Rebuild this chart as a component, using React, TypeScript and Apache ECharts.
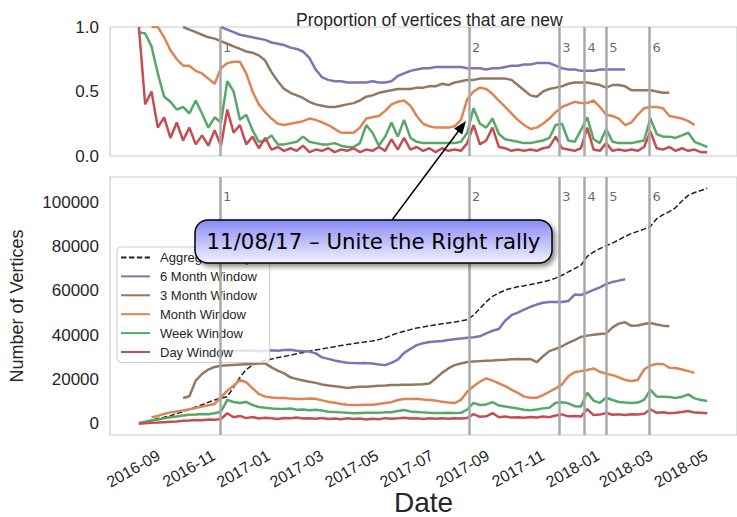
import React, { useEffect, useRef } from 'react';
import * as echarts from 'echarts';

const DAY = 86400000;
const firstWeek = Date.UTC(2016, 7, 10);
const weeks: number[] = Array.from({ length: 91 }, (_, i) => firstWeek + i * 7 * DAY);

const xMin = Date.UTC(2016, 6, 9);
const xMax = Date.UTC(2018, 5, 4);
const monthTicks = ['2016-09-01', '2016-11-01', '2017-01-01', '2017-03-01', '2017-05-01', '2017-07-01', '2017-09-01', '2017-11-01', '2018-01-01', '2018-03-01', '2018-05-01'];
const monthTickLabels = ['2016-09', '2016-11', '2017-01', '2017-03', '2017-05', '2017-07', '2017-09', '2017-11', '2018-01', '2018-03', '2018-05'];
const vertexTicks = [0, 20000, 40000, 60000, 80000, 100000];
const eventDates = ['2016-11-08', '2017-08-11', '2017-11-19', '2017-12-17', '2018-01-10', '2018-02-27'];
const eventNames = ['1', '2', '3', '4', '5', '6'];

const seriesNames = ['Aggregate Graph', '6 Month Window', '3 Month Window', 'Month Window', 'Week Window', 'Day Window'];
const seriesColors = ['#222222', '#8172b3', '#937860', '#dd8452', '#55a868', '#c44e52'];

// Bottom panel: number of vertices (thousands), weekly samples from 2016-08-10
const aggregateK = [0.2, 0.9, 1.7, 2.4, 3.0, 3.7, 4.6, 5.6, 6.6, 7.6,
  8.6, 9.8, 10.8, 11.6, 12.3, 16.5, 21.0, 24.5, 26.5, 27.7,
  28.6, 29.3, 29.9, 30.4, 31.0, 31.6, 32.2, 32.8, 33.3, 33.8,
  34.3, 34.8, 35.3, 35.8, 36.2, 36.6, 37.0, 37.4, 38.0, 38.8,
  40.0, 41.0, 41.8, 42.5, 43.2, 43.7, 44.2, 44.7, 45.1, 45.5,
  45.9, 46.4, 47.0, 49.0, 52.0, 55.0, 57.5, 59.0, 60.3, 61.2,
  61.8, 62.3, 62.8, 63.4, 64.0, 64.8, 65.7, 67.0, 68.5, 70.0,
  71.5, 75.5, 77.5, 79.0, 80.3, 81.5, 83.0, 84.5, 85.8, 86.8,
  87.8, 89.0, 92.5, 94.3, 95.7, 97.5, 100.5, 103.0, 104.3, 105.2,
  106.2];
const sixMonthStart = 13;
const sixMonthK = [33.3, 33.0, 32.8, 33.0, 33.2, 33.0, 32.8, 33.0, 33.2, 33.0,
  33.3, 33.4, 33.0, 32.8, 32.6, 31.8, 30.0, 29.3, 28.6, 28.0,
  27.6, 27.4, 27.3, 27.4, 27.2, 26.8, 26.5, 27.5, 29.0, 32.0,
  33.8, 35.5, 36.4, 36.9, 37.2, 37.4, 37.8, 38.2, 38.5, 38.8,
  39.1, 39.5, 40.8, 42.0, 42.8, 46.5, 49.0, 50.2, 51.5, 52.8,
  53.8, 54.6, 55.0, 54.9, 55.0, 55.4, 58.3, 58.1, 59.2, 60.4,
  61.5, 63.0, 64.0, 64.6, 65.2];
const threeMonthStart = 7;
const threeMonthK = [11.7, 12.5, 19.5, 22.5, 24.5, 25.7, 26.2, 26.4, 26.6, 26.8,
  26.9, 27.0, 27.2, 27.3, 25.5, 24.0, 22.8, 21.0, 20.2, 19.6,
  19.0, 18.5, 17.8, 17.3, 17.0, 16.6, 16.2, 16.5, 16.8, 16.7,
  17.0, 17.2, 17.3, 17.5, 17.5, 17.6, 17.7, 17.8, 17.9, 18.2,
  20.5, 23.0, 25.0, 26.5, 27.2, 27.9, 28.1, 28.3, 28.5, 28.6,
  28.8, 28.9, 29.1, 29.3, 29.2, 29.3, 27.8, 30.5, 32.8, 33.8,
  35.0, 36.5, 37.8, 39.2, 39.8, 40.2, 40.5, 40.8, 43.5, 45.2,
  45.8, 44.2, 44.4, 45.0, 45.5, 44.8, 44.3, 44.0];
const monthStart = 2;
const monthK = [3.0, 3.6, 4.5, 5.2, 5.6, 6.1, 6.6, 7.2, 7.8, 8.4,
  9.0, 12.0, 15.0, 17.2, 19.8, 18.8, 16.0, 13.5, 12.3, 11.9,
  11.7, 11.7, 11.4, 11.2, 11.2, 11.5, 11.3, 10.6, 10.0, 9.5,
  9.0, 8.6, 8.5, 8.5, 8.6, 8.6, 9.0, 9.4, 9.8, 10.8,
  11.2, 11.2, 11.3, 11.0, 10.8, 10.5, 10.0, 9.6, 9.4, 10.8,
  14.5, 17.0, 19.0, 20.5, 19.5, 18.3, 17.0, 15.5, 14.0, 12.3,
  11.8, 11.8, 13.0, 14.5, 16.0, 17.8, 21.5, 23.3, 23.8, 24.3,
  25.0, 23.5, 22.6, 22.0, 21.0, 19.8, 19.3, 19.8, 24.5, 26.3,
  27.0, 27.0, 25.3, 25.2, 24.5, 23.8, 23.0];
const weekK = [0.4, 1.0, 1.5, 2.0, 2.5, 3.0, 3.3, 3.8, 4.1, 4.2,
  4.5, 4.4, 4.8, 5.5, 10.8, 9.9, 9.4, 9.9, 8.5, 7.6,
  7.3, 7.0, 6.8, 6.7, 6.9, 6.4, 6.5, 6.2, 6.4, 6.0,
  5.5, 5.4, 5.2, 5.0, 4.8, 4.9, 5.0, 5.0, 5.0, 5.2,
  5.3, 5.8, 6.3, 5.6, 5.4, 5.2, 5.0, 4.9, 4.9, 5.0,
  4.9, 5.0, 6.5, 9.5, 8.5, 8.8, 9.8, 8.3, 7.8, 7.4,
  6.9, 6.4, 6.2, 6.5, 7.0, 7.3, 9.5, 9.8, 9.3, 8.0,
  7.8, 14.0, 10.5, 9.5, 11.8, 10.8, 9.9, 9.6, 9.4, 9.6,
  10.8, 15.3, 12.3, 12.2, 12.1, 11.7, 12.2, 13.3, 11.5, 10.8,
  10.3];
const dayK = [0.1, 0.3, 0.5, 0.6, 0.8, 1.0, 1.1, 1.4, 1.5, 1.8,
  1.7, 2.0, 1.9, 2.2, 4.8, 3.0, 3.6, 2.6, 3.1, 2.4,
  2.8, 2.6, 2.2, 2.7, 2.5, 2.9, 2.4, 2.6, 2.3, 2.7,
  2.2, 2.4, 2.1, 2.5, 2.2, 2.4, 2.0, 2.3, 2.1, 2.6,
  2.3, 2.5, 2.8, 2.4, 2.6, 2.2, 2.5, 2.3, 2.6, 2.3,
  2.5, 2.4, 2.7, 4.4, 3.2, 3.4, 4.9, 3.0, 3.3, 2.9,
  3.0, 2.8, 3.1, 2.9, 3.3, 3.0, 3.8, 4.3, 3.4, 3.6,
  3.3, 6.7, 4.0, 4.2, 4.9, 4.1, 4.3, 4.0, 4.4, 4.2,
  4.6, 6.6, 5.0, 5.3, 4.8, 5.0, 5.4, 5.8, 5.1, 5.0,
  4.8];

// Top panel: proportion of vertices that are new
const sixMonthProp = [1.0, 0.98, 0.96, 0.94, 0.93, 0.92, 0.91, 0.90, 0.88, 0.87,
  0.86, 0.84, 0.83, 0.81, 0.76, 0.67, 0.61, 0.59, 0.58, 0.58,
  0.57, 0.57, 0.57, 0.57, 0.58, 0.57, 0.57, 0.58, 0.62, 0.64,
  0.66, 0.67, 0.68, 0.68, 0.69, 0.69, 0.69, 0.69, 0.69, 0.68,
  0.68, 0.68, 0.67, 0.68, 0.68, 0.69, 0.70, 0.70, 0.71, 0.71,
  0.72, 0.72, 0.72, 0.70, 0.68, 0.67, 0.67, 0.66, 0.66, 0.66,
  0.67, 0.67, 0.67, 0.67, 0.67];
const threeMonthProp = [1.0, 0.98, 0.96, 0.94, 0.92, 0.91, 0.89, 0.87, 0.85, 0.83,
  0.81, 0.80, 0.78, 0.74, 0.65, 0.58, 0.52, 0.49, 0.47, 0.45,
  0.42, 0.40, 0.39, 0.38, 0.38, 0.39, 0.40, 0.41, 0.43, 0.46,
  0.47, 0.49, 0.50, 0.51, 0.52, 0.52, 0.52, 0.53, 0.53, 0.54,
  0.54, 0.56, 0.55, 0.57, 0.58, 0.59, 0.59, 0.60, 0.60, 0.60,
  0.60, 0.60, 0.59, 0.55, 0.51, 0.47, 0.46, 0.50, 0.52, 0.53,
  0.54, 0.56, 0.57, 0.57, 0.57, 0.56, 0.55, 0.53, 0.55, 0.55,
  0.54, 0.51, 0.51, 0.51, 0.51, 0.50, 0.49, 0.49];
const monthProp = [1.0, 1.0, 0.92, 0.82, 0.75, 0.70, 0.70, 0.66, 0.64, 0.60,
  0.56, 0.68, 0.72, 0.73, 0.73, 0.64, 0.50, 0.40, 0.34, 0.29,
  0.25, 0.24, 0.25, 0.26, 0.27, 0.29, 0.28, 0.26, 0.24, 0.21,
  0.18, 0.18, 0.18, 0.22, 0.29, 0.30, 0.31, 0.35, 0.40, 0.42,
  0.43, 0.39, 0.31, 0.25, 0.23, 0.22, 0.22, 0.22, 0.23, 0.28,
  0.44, 0.50, 0.53, 0.52, 0.48, 0.43, 0.38, 0.33, 0.28, 0.24,
  0.21, 0.22, 0.25, 0.29, 0.34, 0.38, 0.40, 0.42, 0.41, 0.41,
  0.43, 0.38, 0.32, 0.31, 0.29, 0.24, 0.26, 0.32, 0.37, 0.38,
  0.38, 0.37, 0.31, 0.30, 0.29, 0.27, 0.24];
const weekProp = [0.96, 0.95, 0.85, 0.64, 0.46, 0.42, 0.36, 0.38, 0.33, 0.43,
  0.33, 0.22, 0.30, 0.26, 0.58, 0.50, 0.28, 0.32, 0.20, 0.11,
  0.12, 0.16, 0.09, 0.09, 0.10, 0.11, 0.15, 0.11, 0.10, 0.09,
  0.09, 0.10, 0.08, 0.07, 0.07, 0.10, 0.24, 0.18, 0.08, 0.15,
  0.26, 0.15, 0.28, 0.14, 0.11, 0.10, 0.10, 0.10, 0.10, 0.10,
  0.10, 0.11, 0.18, 0.37, 0.25, 0.22, 0.29, 0.17, 0.13, 0.12,
  0.11, 0.10, 0.10, 0.11, 0.12, 0.14, 0.24, 0.25, 0.12, 0.11,
  0.20, 0.30, 0.13, 0.10, 0.21, 0.11, 0.10, 0.10, 0.10, 0.11,
  0.12, 0.29, 0.17, 0.15, 0.15, 0.14, 0.16, 0.18, 0.11, 0.09,
  0.07];
const dayProp = [1.0, 0.40, 0.50, 0.22, 0.30, 0.14, 0.26, 0.12, 0.22, 0.09,
  0.16, 0.08, 0.20, 0.08, 0.36, 0.18, 0.24, 0.09, 0.15, 0.06,
  0.14, 0.05, 0.07, 0.04, 0.06, 0.04, 0.08, 0.03, 0.05, 0.04,
  0.06, 0.03, 0.05, 0.04, 0.06, 0.03, 0.05, 0.04, 0.07, 0.04,
  0.13, 0.05, 0.14, 0.05, 0.07, 0.04, 0.06, 0.03, 0.06, 0.04,
  0.05, 0.04, 0.10, 0.24, 0.09, 0.12, 0.22, 0.07, 0.06, 0.04,
  0.05, 0.04, 0.05, 0.04, 0.06, 0.07, 0.15, 0.06, 0.05, 0.04,
  0.06, 0.22, 0.05, 0.04, 0.10, 0.04, 0.05, 0.04, 0.05, 0.04,
  0.07, 0.19, 0.06, 0.05, 0.07, 0.04, 0.06, 0.04, 0.05, 0.03,
  0.03];

const FONT = '"Liberation Sans", Arial, sans-serif';
const TEXT = '#262626';
const Y_MIN = -5000;

const pts = (vals: number[], start: number, scale: number) =>
  vals.map((v, i) => [weeks[start + i], v * scale]);

const lineSeries = (name: string, color: string, data: any[], grid: number, dashed = false) => ({
  type: 'line',
  name,
  xAxisIndex: grid,
  yAxisIndex: grid,
  data,
  symbol: 'none',
  showSymbol: false,
  z: 3,
  lineStyle: dashed ? { color, width: 1.5, type: [5.5, 2.4] } : { color, width: 2.5 },
  itemStyle: { color },
});

const eventSeries = (grid: number, labelY: number) => ({
  type: 'scatter',
  name: 'events' + grid,
  xAxisIndex: grid,
  yAxisIndex: grid,
  symbolSize: 0.1,
  itemStyle: { color: 'rgba(0,0,0,0)' },
  z: 1,
  silent: true,
  data: eventDates.map((d, k) => ({ value: [Date.parse(d), labelY], label: { formatter: eventNames[k] } })),
  label: { show: true, position: 'right', distance: 3, fontSize: 13, color: '#444', fontFamily: '"DejaVu Sans", sans-serif' },
  markLine: {
    silent: true,
    symbol: 'none',
    label: { show: false },
    lineStyle: { color: '#a9a9a9', width: 2.5, type: 'solid' },
    data: eventDates.map((d) => ({ xAxis: Date.parse(d) })),
  },
});

// rotated tick labels of the date axis, placed through the axis scale
const dateTickSeries = {
  type: 'custom',
  name: 'dateTicks',
  xAxisIndex: 1,
  yAxisIndex: 1,
  silent: true,
  clip: false,
  z: 1,
  data: monthTicks.map((d) => [Date.parse(d), Y_MIN]),
  encode: { x: 0, y: 1 },
  renderItem: (params: any, api: any) => {
    const p = api.coord([api.value(0), api.value(1)]);
    return {
      type: 'text',
      x: p[0],
      y: p[1] + 19,
      rotation: Math.PI / 6,
      style: {
        text: monthTickLabels[params.dataIndex],
        align: 'right',
        verticalAlign: 'middle',
        fontFamily: FONT,
        fontSize: 16,
        fill: TEXT,
      },
    };
  },
};

const option: any = {
  animation: false,
  backgroundColor: '#ffffff',
  title: {
    text: 'Proportion of vertices that are new',
    left: 291,
    top: 6,
    textStyle: { fontFamily: FONT, fontSize: 17.5, fontWeight: 'normal', color: TEXT },
  },
  grid: [
    { left: 110, right: -4, top: 27, height: 129, show: true, borderColor: '#cccccc', borderWidth: 1.2 },
    { left: 110, right: -4, top: 177, height: 258, show: true, borderColor: '#cccccc', borderWidth: 1.2 },
  ],
  xAxis: [
    {
      type: 'time', gridIndex: 0, min: xMin, max: xMax,
      axisLabel: { show: false }, axisTick: { show: false }, axisLine: { show: false }, splitLine: { show: false },
    },
    {
      type: 'time', gridIndex: 1, min: xMin, max: xMax,
      axisLabel: { show: false }, axisTick: { show: false }, axisLine: { show: false }, splitLine: { show: false },
      name: 'Date',
      nameLocation: 'middle',
      nameGap: 53,
      nameTextStyle: { fontFamily: FONT, fontSize: 28, color: TEXT },
    },
  ],
  yAxis: [
    {
      type: 'value', gridIndex: 0, min: 0, max: 1, interval: 0.5,
      axisTick: { show: false }, axisLine: { show: false }, splitLine: { show: false },
      axisLabel: { formatter: (v: number) => v.toFixed(1), margin: 11, fontFamily: FONT, fontSize: 17, color: TEXT },
    },
    {
      type: 'value', gridIndex: 1, min: Y_MIN, max: 111300,
      axisTick: { show: false }, axisLine: { show: false }, splitLine: { show: false },
      axisLabel: { customValues: vertexTicks, formatter: (v: number) => String(v), margin: 11, fontFamily: FONT, fontSize: 17, color: TEXT },
      name: 'Number of Vertices',
      nameLocation: 'middle',
      nameGap: 84,
      nameTextStyle: { fontFamily: FONT, fontSize: 18, color: TEXT },
    },
  ],
  legend: {
    data: seriesNames,
    orient: 'vertical',
    left: 117,
    top: 247,
    itemWidth: 29,
    itemHeight: 14,
    itemGap: 5.9,
    padding: [4, 10, 4, 3],
    backgroundColor: 'rgba(255,255,255,0.8)',
    borderColor: '#cccccc',
    borderWidth: 1,
    borderRadius: 4,
    itemStyle: { opacity: 0 },
    textStyle: { fontFamily: FONT, fontSize: 13, color: TEXT, padding: [0, 0, 0, 5] },
    selectedMode: false,
  },
  series: [
    eventSeries(0, 0.84),
    eventSeries(1, 102600),
    dateTickSeries,
    lineSeries(seriesNames[1], seriesColors[1], pts(sixMonthProp, sixMonthStart, 1), 0),
    lineSeries(seriesNames[2], seriesColors[2], pts(threeMonthProp, threeMonthStart, 1), 0),
    lineSeries(seriesNames[3], seriesColors[3], pts(monthProp, monthStart, 1), 0),
    lineSeries(seriesNames[4], seriesColors[4], pts(weekProp, 0, 1), 0),
    lineSeries(seriesNames[5], seriesColors[5], pts(dayProp, 0, 1), 0),
    lineSeries(seriesNames[0], seriesColors[0], pts(aggregateK, 0, 1000), 1, true),
    lineSeries(seriesNames[1], seriesColors[1], pts(sixMonthK, sixMonthStart, 1000), 1),
    lineSeries(seriesNames[2], seriesColors[2], pts(threeMonthK, threeMonthStart, 1000), 1),
    lineSeries(seriesNames[3], seriesColors[3], pts(monthK, monthStart, 1000), 1),
    lineSeries(seriesNames[4], seriesColors[4], pts(weekK, 0, 1000), 1),
    lineSeries(seriesNames[5], seriesColors[5], pts(dayK, 0, 1000), 1),
  ],
  graphic: [
    {
      type: 'group',
      z: 100,
      children: [
        { type: 'line', z: 100, shape: { x1: 392, y1: 220, x2: 460, y2: 129 }, style: { stroke: '#000', lineWidth: 1.5 } },
        { type: 'polygon', z: 100, shape: { points: [[466, 121], [462.2, 134.4], [454.2, 128.4]] }, style: { fill: '#000' } },
        {
          type: 'rect', z: 100,
          shape: { x: 195, y: 220, width: 357, height: 43, r: 13 },
          style: {
            fill: { type: 'linear', x: 0, y: 0, x2: 0, y2: 1, colorStops: [{ offset: 0, color: '#8a8af4' }, { offset: 1, color: '#f2f2ff' }] },
            stroke: '#000', lineWidth: 1.5,
            shadowBlur: 5, shadowOffsetX: 3, shadowOffsetY: 3, shadowColor: 'rgba(0,0,0,0.45)',
          },
        },
        {
          type: 'text', z: 101, x: 373.5, y: 241.5,
          style: { text: '11/08/17 \u2013 Unite the Right rally', fontFamily: '"DejaVu Sans", sans-serif', fontSize: 21.3, fill: '#000', align: 'center', verticalAlign: 'middle' },
        },
      ],
    },
  ],
};

export default function App() {
  const ref = useRef<HTMLDivElement>(null);
  useEffect(() => {
    const chart = echarts.init(ref.current!, null, { renderer: 'svg' });
    chart.setOption(option);
    return () => chart.dispose();
  }, []);
  return <div ref={ref} style={{ position: 'fixed', left: 0, top: 0, width: 737, height: 517, background: '#fff' }} />;
}
